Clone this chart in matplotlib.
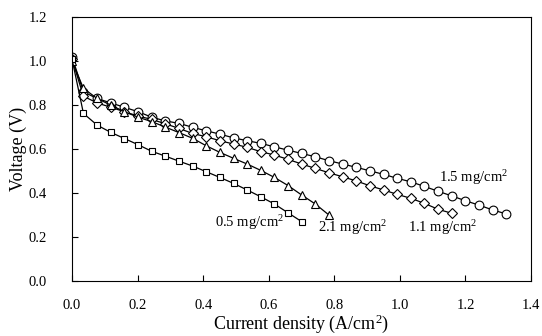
import numpy as np
import matplotlib
matplotlib.use("Agg")
import matplotlib.pyplot as plt

plt.rcParams['font.family'] = ['Liberation Serif', 'DejaVu Serif']
plt.rcParams['mathtext.fontset'] = 'custom'
plt.rcParams['mathtext.rm'] = 'Liberation Serif'
plt.rcParams['mathtext.it'] = 'Liberation Serif:italic'

x0 = 0.035
dx = 0.0416

v_05 = [1.01, 0.762, 0.709, 0.676, 0.648, 0.62, 0.59, 0.568, 0.545, 0.523, 0.497,
        0.471, 0.444, 0.414, 0.383, 0.35, 0.31, 0.27]
v_11 = [1.01, 0.84, 0.81, 0.79, 0.77, 0.75, 0.735, 0.715, 0.694, 0.671, 0.656, 0.638,
        0.623, 0.608, 0.588, 0.573, 0.553, 0.532, 0.512, 0.492, 0.474, 0.455,
        0.433, 0.414, 0.394, 0.376, 0.353, 0.326, 0.308]
v_15 = [1.02, 0.86, 0.83, 0.81, 0.79, 0.77, 0.745, 0.728, 0.717, 0.699, 0.683, 0.668,
        0.651, 0.638, 0.626, 0.61, 0.595, 0.58, 0.565, 0.547, 0.532, 0.517,
        0.501, 0.485, 0.467, 0.451, 0.43, 0.408, 0.387, 0.365, 0.345, 0.323, 0.305]
v_21 = [1.0, 0.876, 0.83, 0.80, 0.77, 0.745, 0.725, 0.70, 0.675, 0.649, 0.615,
        0.585, 0.558, 0.532, 0.503, 0.471, 0.434, 0.391, 0.35, 0.30]

def currents(v):
    return np.concatenate([[0.0], x0 + dx * np.arange(len(v) - 1)])

fig = plt.figure(figsize=(5.42, 3.36), dpi=100)
ax = fig.add_axes([0.1328, 0.1637, 0.847, 0.7853])

kw = dict(color='black', lw=0.9, mfc='white', mec='black', mew=0.8)
ax.plot(currents(v_15), v_15, marker='o', ms=6.3, **kw)
ax.plot(currents(v_11), v_11, marker='D', ms=4.6, **kw)
ax.plot(currents(v_21), v_21, marker='^', ms=6.3, **kw)
ax.plot(currents(v_05), v_05, marker='s', ms=5.0, **kw)

ax.set_xlim(0, 1.4)
ax.set_ylim(0, 1.2)
ax.set_xticks(np.arange(0, 1.41, 0.2))
ax.set_yticks(np.arange(0, 1.21, 0.2))
ax.xaxis.set_major_formatter(matplotlib.ticker.FormatStrFormatter('%.1f'))
ax.yaxis.set_major_formatter(matplotlib.ticker.FormatStrFormatter('%.1f'))
ax.tick_params(direction='in', length=4, width=0.8, labelsize=10.5)
ax.tick_params(axis='x', pad=13)
ax.tick_params(axis='y', pad=18)
for s in ax.spines.values():
    s.set_linewidth(0.8)

ax.set_xlabel('Current density (A/cm$^2$)', fontsize=13, labelpad=0)
ax.set_ylabel('Voltage (V)', fontsize=13, labelpad=1)

tfs = 10.5
ax.text(1.12, 0.47, '1.5 mg/cm$^2$', fontsize=tfs, ha='left', va='center')
ax.text(0.436, 0.268, '0.5 mg/cm$^2$', fontsize=tfs, ha='left', va='center')
ax.text(0.75, 0.245, '2.1 mg/cm$^2$', fontsize=tfs, ha='left', va='center')
ax.text(1.025, 0.245, '1.1 mg/cm$^2$', fontsize=tfs, ha='left', va='center')

fig.savefig('out.png', dpi=100)
